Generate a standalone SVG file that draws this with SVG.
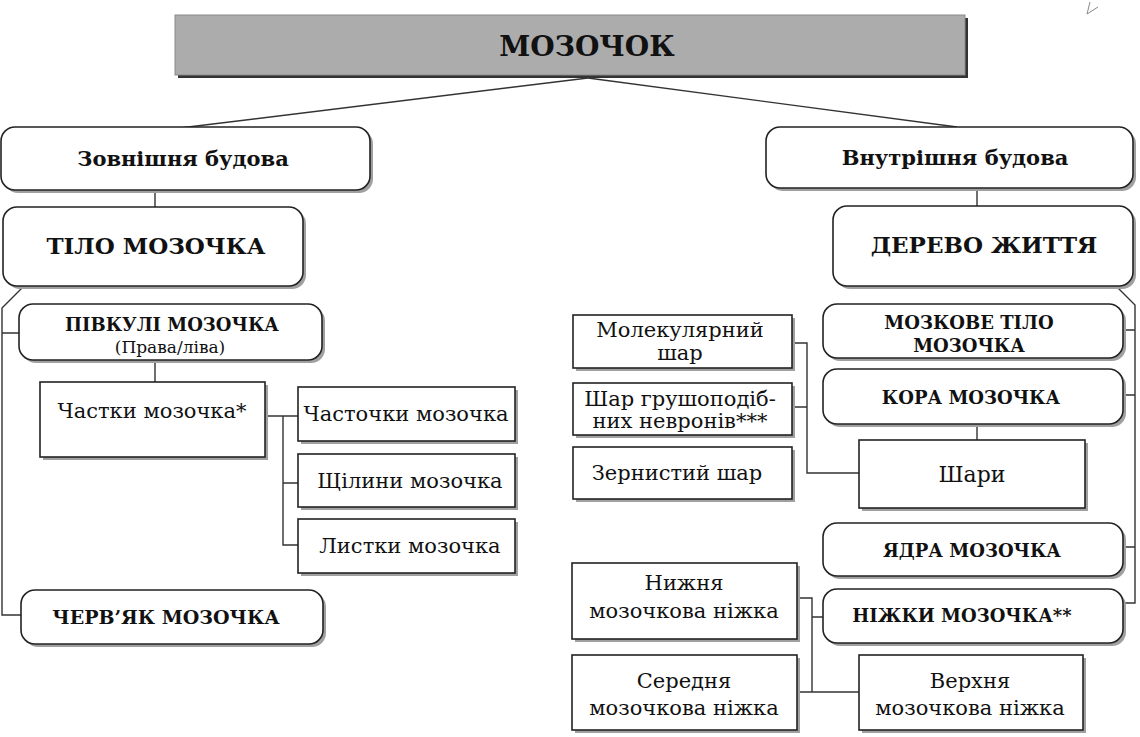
<svg xmlns="http://www.w3.org/2000/svg" width="1140" height="737" viewBox="0 0 1140 737">
<style>
.bx { fill:#fff; stroke:#222; stroke-width:1.6 }
.sh { fill:#a0a0a0 }
.ln { stroke:#333; stroke-width:1.4; fill:none }
.b { font-family:"DejaVu Serif", "Liberation Serif", serif; font-weight:bold; fill:#111; text-anchor:middle }
.r { font-family:"DejaVu Serif", "Liberation Serif", serif; fill:#111; text-anchor:middle; font-size:21px }
</style>
<rect width="1140" height="737" fill="#fff"/>
<path d="M1090,2 L1087,14 L1098,7" fill="none" stroke="#888" stroke-width="1"/>

<g id="connectors" class="ln">
<path d="M588,78 L180,128"/>
<path d="M588,78 L957,127"/>
<path d="M155,190 V207"/>
<path d="M977,188 V206"/>
<path d="M23,287 L2,308 V615 H21 M2,333 H19"/>
<path d="M155,360 V382"/>
<path d="M265,416 H298 M283,416 V545 H298 M283,483 H298"/>
<path d="M1117,287 L1135,305 V603 H1123 M1123,330 H1135 M1123,395 H1135 M1123,547 H1135"/>
<path d="M977,424 V440"/>
<path d="M792,343 H807 V473 H859 M792,407 H807"/>
<path d="M797,598 H812 V692 M812,617 H823 M797,692 H859"/>
</g>

<g id="title">
<rect x="178" y="18" width="790" height="60" fill="#333"/>
<rect x="175" y="15" width="790" height="60" fill="#acacac" stroke="#8a8a8a" stroke-width="1"/>
<text class="b" x="587" y="56" font-size="28">МОЗОЧОК</text>
</g>

<g id="zovn">
<rect class="sh" x="4" y="130" width="369" height="63" rx="14"/>
<rect class="bx" x="1" y="127" width="369" height="63" rx="14"/>
<text class="b" x="183" y="166" font-size="21">Зовнішня будова</text>
</g>
<g id="vnutr">
<rect class="sh" x="769" y="130" width="367" height="61" rx="14"/>
<rect class="bx" x="766" y="127" width="367" height="61" rx="14"/>
<text class="b" x="955" y="165" font-size="21">Внутрішня будова</text>
</g>
<g id="tilo">
<rect class="sh" x="6" y="210" width="300" height="79" rx="14"/>
<rect class="bx" x="3" y="207" width="300" height="79" rx="14"/>
<text class="b" x="156" y="254" font-size="23">ТІЛО МОЗОЧКА</text>
</g>
<g id="derevo">
<rect class="sh" x="836" y="209" width="300" height="80" rx="14"/>
<rect class="bx" x="833" y="206" width="300" height="80" rx="14"/>
<text class="b" x="984" y="253" font-size="23">ДЕРЕВО ЖИТТЯ</text>
</g>
<g id="pivkuli">
<rect class="sh" x="22" y="307" width="303" height="56" rx="14"/>
<rect class="bx" x="19" y="304" width="303" height="56" rx="14"/>
<text class="b" x="172" y="331" font-size="18">ПІВКУЛІ МОЗОЧКА</text>
<text class="r" x="170" y="353" style="font-size:17px">(Права/ліва)</text>
</g>
<g id="chastky">
<rect class="sh" x="43" y="385" width="225" height="75"/>
<rect class="bx" x="40" y="382" width="225" height="75"/>
<text class="r" x="152" y="418">Частки мозочка*</text>
</g>
<g id="chastochky">
<rect class="sh" x="301" y="390" width="217" height="54"/>
<rect class="bx" x="298" y="387" width="217" height="54"/>
<text class="r" x="406" y="421">Часточки мозочка</text>
</g>
<g id="shchilyny">
<rect class="sh" x="301" y="457" width="217" height="53"/>
<rect class="bx" x="298" y="454" width="217" height="53"/>
<text class="r" x="410" y="488">Щілини мозочка</text>
</g>
<g id="lystky">
<rect class="sh" x="301" y="522" width="217" height="54"/>
<rect class="bx" x="298" y="519" width="217" height="54"/>
<text class="r" x="410" y="553">Листки мозочка</text>
</g>
<g id="cherv">
<rect class="sh" x="24" y="593" width="302" height="54" rx="14"/>
<rect class="bx" x="21" y="590" width="302" height="54" rx="14"/>
<text class="b" x="166" y="624" font-size="19">ЧЕРВ’ЯК МОЗОЧКА</text>
</g>

<g id="molek">
<rect class="sh" x="576" y="318" width="219" height="53"/>
<rect class="bx" x="573" y="315" width="219" height="53"/>
<text class="r" x="680" y="337">Молекулярний</text>
<text class="r" x="680" y="360">шар</text>
</g>
<g id="grush">
<rect class="sh" x="576" y="386" width="219" height="52"/>
<rect class="bx" x="573" y="383" width="219" height="52"/>
<text class="r" x="680" y="406">Шар грушоподіб-</text>
<text class="r" x="680" y="428">них невронів***</text>
</g>
<g id="zern">
<rect class="sh" x="576" y="450" width="219" height="52"/>
<rect class="bx" x="573" y="447" width="219" height="52"/>
<text class="r" x="677" y="480">Зернистий шар</text>
</g>
<g id="mozkove">
<rect class="sh" x="826" y="307" width="300" height="54" rx="14"/>
<rect class="bx" x="823" y="304" width="300" height="54" rx="14"/>
<text class="b" x="969" y="329" font-size="18">МОЗКОВЕ ТІЛО</text>
<text class="b" x="969" y="352" font-size="18">МОЗОЧКА</text>
</g>
<g id="kora">
<rect class="sh" x="826" y="372" width="300" height="55" rx="14"/>
<rect class="bx" x="823" y="369" width="300" height="55" rx="14"/>
<text class="b" x="971" y="404" font-size="18">КОРА МОЗОЧКА</text>
</g>
<g id="shary">
<rect class="sh" x="862" y="443" width="226" height="68"/>
<rect class="bx" x="859" y="440" width="226" height="68"/>
<text class="r" x="972" y="482" style="font-size:22px">Шари</text>
</g>
<g id="yadra">
<rect class="sh" x="826" y="526" width="300" height="53" rx="14"/>
<rect class="bx" x="823" y="523" width="300" height="53" rx="14"/>
<text class="b" x="972" y="557" font-size="18">ЯДРА МОЗОЧКА</text>
</g>
<g id="nizhky">
<rect class="sh" x="826" y="592" width="300" height="54" rx="14"/>
<rect class="bx" x="823" y="589" width="300" height="54" rx="14"/>
<text class="b" x="962" y="622" font-size="18">НІЖКИ МОЗОЧКА**</text>
</g>
<g id="nyzhnia">
<rect class="sh" x="575" y="566" width="225" height="76"/>
<rect class="bx" x="572" y="563" width="225" height="76"/>
<text class="r" x="684" y="590">Нижня</text>
<text class="r" x="684" y="618">мозочкова ніжка</text>
</g>
<g id="serednia">
<rect class="sh" x="575" y="658" width="225" height="75"/>
<rect class="bx" x="572" y="655" width="225" height="75"/>
<text class="r" x="684" y="688">Середня</text>
<text class="r" x="684" y="715">мозочкова ніжка</text>
</g>
<g id="verkhnia">
<rect class="sh" x="862" y="658" width="224" height="75"/>
<rect class="bx" x="859" y="655" width="224" height="75"/>
<text class="r" x="970" y="688">Верхня</text>
<text class="r" x="970" y="715">мозочкова ніжка</text>
</g>
</svg>
